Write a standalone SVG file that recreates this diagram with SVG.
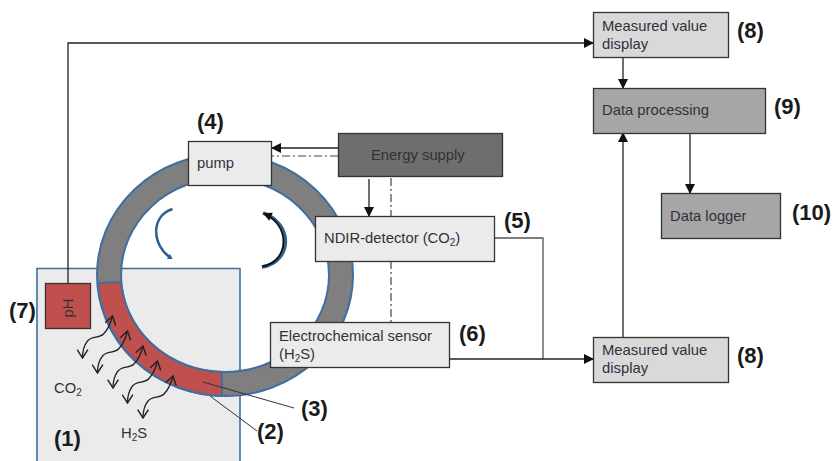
<svg xmlns="http://www.w3.org/2000/svg" width="833" height="461" viewBox="0 0 833 461">
<style>
text{font-family:"Liberation Sans",Arial,sans-serif;font-size:14.800px;fill:#33303a}
.n{font-weight:bold;font-size:22px;fill:#1a1a1a}
.b{stroke:#333;stroke-width:1.3}
.l{fill:#ebebeb}
.c{fill:none;stroke:#222;stroke-width:1.300}
.w{fill:none;stroke:#333;stroke-width:1}
.d{fill:none;stroke:#444;stroke-width:1.200;stroke-dasharray:8 3 2 3}
.s{font-size:10px}
</style>
<defs>
<marker id="a" viewBox="0 0 10 10" refX="9" refY="5" markerWidth="10" markerHeight="10" markerUnits="userSpaceOnUse" orient="auto"><path d="M0 0L10 5L0 10z" fill="#111"/></marker>
<marker id="o" viewBox="0 0 10 10" refX="9" refY="5" markerWidth="12" markerHeight="12" markerUnits="userSpaceOnUse" orient="auto-start-reverse"><path d="M2 0.500L9 5L2 9.500" fill="none" stroke="#222" stroke-width="1.200"/></marker>
<marker id="bl" viewBox="0 0 10 10" refX="6" refY="5" markerWidth="6" markerHeight="6" markerUnits="userSpaceOnUse" orient="auto"><path d="M1 0L9 5L1 10z" fill="#2f5f8f"/></marker>
<marker id="bk" viewBox="0 0 10 10" refX="7" refY="5" markerWidth="11" markerHeight="11" markerUnits="userSpaceOnUse" orient="auto"><path d="M1 1L9 5L1 9z" fill="#111"/></marker>
</defs>
<g id="n1"><path d="M37 461V268.500H240V461" fill="#ebebeb" stroke="#3f6e9f" stroke-width="1.600"/></g>
<g id="ring">
<path d="M97 275A128 121 0 1 1 353 275A128 121 0 1 1 97 275ZM121 275A104 97 0 1 0 329 275A104 97 0 1 0 121 275Z" fill="#7f7f7f" fill-rule="evenodd" stroke="#3f6e9f" stroke-width="2"/>
<path d="M98 283A128 121 0 0 0 222 396V372A104 97 0 0 1 121.200 282Z" fill="#c0504d" stroke="#3f6e9f" stroke-width="1.800"/>
</g>
<g id="flow">
<path d="M172.500 209C150 216 152 246 171 258" fill="none" stroke="#2f5f8f" stroke-width="2.500" marker-end="url(#bl)"/>
<path d="M262 267C292 262 294 224 263 213" fill="none" stroke="#2f5f8f" stroke-width="3.500"/>
<path d="M262 266.500C289 262 291 226 265 214" fill="none" stroke="#111" stroke-width="1.800" marker-end="url(#bk)"/>
</g>
<g id="gas">
<path class="c" d="M112.500 316C110.500 324 107.500 330 103.500 334C98.500 339 92.500 335 87.500 341C83.500 346 82.500 352 82.500 358" marker-start="url(#o)" marker-end="url(#o)"/>
<path class="c" d="M127.500 331C125.500 339 122.500 345 118.500 349C113.500 354 107.500 350 102.500 356C98.500 361 97.500 367 97.500 373" marker-start="url(#o)" marker-end="url(#o)"/>
<path class="c" d="M143 346C141 354 138 360 134 364C129 369 123 365 118 371C114 376 113 382 113 388" marker-start="url(#o)" marker-end="url(#o)"/>
<path class="c" d="M157.500 361C155.500 369 152.500 375 148.500 379C143.500 384 137.500 380 132.500 386C128.500 391 127.500 397 127.500 403" marker-start="url(#o)" marker-end="url(#o)"/>
<path class="c" d="M173 376C171 384 168 390 164 394C159 399 153 395 148 401C144 406 143 412 143 418" marker-start="url(#o)" marker-end="url(#o)"/>
</g>
<g id="connectors">
<path class="c" d="M68 283V43H593" marker-end="url(#a)"/>
<path class="c" d="M623 57V88" marker-end="url(#a)"/>
<path class="c" d="M690 133V193" marker-end="url(#a)"/>
<path class="c" d="M623 337V133" marker-end="url(#a)"/>
<path class="c" d="M338 148H272" marker-end="url(#a)"/>
<path class="d" d="M338 156H272"/>
<path class="c" d="M369 179V216" marker-end="url(#a)"/>
<path class="d" d="M391 178V216M391 261V322"/>
<path class="c" style="stroke:#555" d="M494 238H543V359"/>
<path class="c" style="stroke-width:1.700" d="M449 359H593" marker-end="url(#a)"/>
<path class="w" d="M203 382L294 408M210 396L257 431"/>
</g>
<g id="n7"><rect x="45.500" y="283.500" width="45" height="45" fill="#c0504d" class="b"/><text transform="translate(73 308) rotate(-90)" text-anchor="middle">pH</text><text class="n" x="9" y="318">(7)</text></g>
<g id="n4"><rect x="188.500" y="141.500" width="83" height="44" class="b l"/><text x="197" y="168">pump</text><text class="n" x="197" y="129">(4)</text></g>
<g id="energy"><rect x="338.500" y="133.500" width="164" height="43" fill="#6e6e6e" class="b"/><text x="371" y="160">Energy supply</text></g>
<g id="n5"><rect x="315.500" y="216.500" width="179" height="45" class="b l"/><text x="324" y="243">NDIR-detector (CO<tspan class="s" dy="3">2</tspan><tspan dy="-3">)</tspan></text><text class="n" x="504" y="228">(5)</text></g>
<g id="n6"><rect x="270.500" y="322.500" width="179" height="45" class="b l"/><text x="279" y="341">Electrochemical sensor</text><text x="279" y="359">(H<tspan class="s" dy="3">2</tspan><tspan dy="-3">S)</tspan></text><text class="n" x="459" y="341">(6)</text></g>
<g id="n8a"><rect x="593.500" y="12.500" width="135" height="45" fill="#d9d9d9" class="b"/><text x="602" y="31">Measured value</text><text x="602" y="49">display</text><text class="n" x="737" y="38">(8)</text></g>
<g id="n9"><rect x="593.500" y="88.500" width="172" height="45" fill="#a6a6a6" class="b"/><text x="602" y="115">Data processing</text><text class="n" x="774" y="114">(9)</text></g>
<g id="n10"><rect x="661.500" y="193.500" width="119" height="45" fill="#a6a6a6" class="b"/><text x="670" y="221">Data logger</text><text class="n" x="792" y="220">(10)</text></g>
<g id="n8b"><rect x="593.500" y="337.500" width="135" height="45" fill="#d9d9d9" class="b"/><text x="602" y="355">Measured value</text><text x="602" y="373">display</text><text class="n" x="737" y="363">(8)</text></g>
<g id="labels"><text x="54" y="393">CO<tspan class="s" dy="3">2</tspan></text><text x="121" y="438">H<tspan class="s" dy="3">2</tspan><tspan dy="-3">S</tspan></text><text class="n" x="54" y="446">(1)</text><text class="n" x="257" y="439">(2)</text><text class="n" x="301" y="416">(3)</text></g>
</svg>
